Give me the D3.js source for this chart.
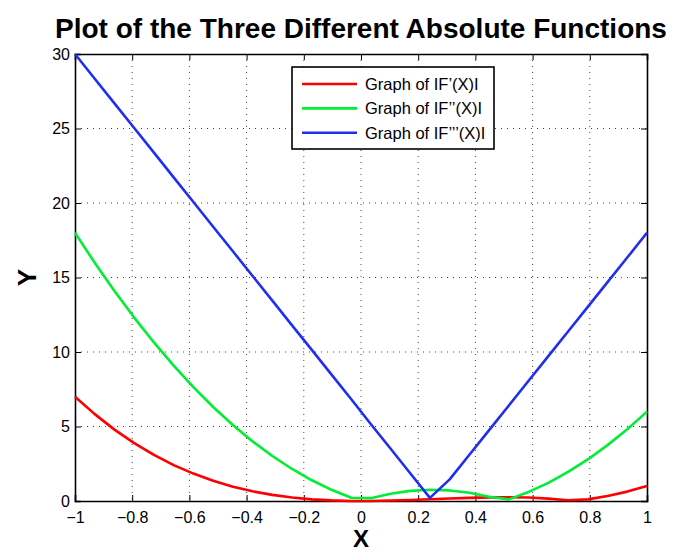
<!DOCTYPE html>
<html>
<head>
<meta charset="utf-8">
<script src="https://cdn.jsdelivr.net/npm/d3@7"></script>
<style>
  body { margin: 0; background: #fff; }
  svg { display: block; font-family: "Liberation Sans", Arial, Helvetica, sans-serif; }
  .grid line { stroke: #444; stroke-dasharray: 1 5; stroke-width: 1; }
</style>
</head>
<body>
<div id="chart"></div>
<script>
// samples (30 points between -1 and 1)
const xs = [-1, -0.931, -0.862, -0.793, -0.724, -0.655, -0.586, -0.517, -0.448, -0.379,
  -0.310, -0.241, -0.172, -0.103, -0.034, 0.034, 0.103, 0.172, 0.241, 0.310,
  0.379, 0.448, 0.517, 0.586, 0.655, 0.724, 0.793, 0.862, 0.931, 1];
const firstAbs = [7, 5.83, 4.79, 3.88, 3.09, 2.41, 1.84, 1.36, 0.96, 0.65,
  0.41, 0.23, 0.11, 0.04, 0.0, 0.0, 0.03, 0.07, 0.12, 0.17,
  0.21, 0.24, 0.25, 0.23, 0.16, 0.05, 0.11, 0.33, 0.63, 1];
const secondAbs = [18, 15.99, 14.09, 12.31, 10.64, 9.08, 7.64, 6.31, 5.10, 4.00,
  3.02, 2.15, 1.39, 0.75, 0.22, 0.19, 0.49, 0.68, 0.75, 0.71,
  0.55, 0.28, 0.11, 0.61, 1.22, 1.95, 2.79, 3.75, 4.82, 6];
const thirdAbs = [30, 28.34, 26.69, 25.03, 23.38, 21.72, 20.07, 18.41, 16.76, 15.10,
  13.45, 11.79, 10.14, 8.48, 6.83, 5.17, 3.52, 1.86, 0.21, 1.45,
  3.10, 4.76, 6.41, 8.07, 9.72, 11.38, 13.03, 14.69, 16.34, 18];
const seriesNames = ['Graph of IF’(X)I', 'Graph of IF’’(X)I', 'Graph of IF’’’(X)I'];
const seriesColors = ['#ff0000', '#00ee33', '#1f2ff0'];
const xTicks = [-1, -0.8, -0.6, -0.4, -0.2, 0, 0.2, 0.4, 0.6, 0.8, 1];
const yTicks = [0, 5, 10, 15, 20, 25, 30];

const W = 673, H = 552;
const margin = { top: 54, right: 26, bottom: 51, left: 75 };
const iw = W - margin.left - margin.right,
  ih = H - margin.top - margin.bottom;

const svg = d3.select('#chart').append('svg')
  .attr('width', W).attr('height', H);
const g = svg.append('g')
  .attr('transform', `translate(${margin.left},${margin.top})`);

const x = d3.scaleLinear().domain([-1, 1]).range([0, iw]);
const y = d3.scaleLinear().domain([0, 30]).range([ih, 0]);

// dotted grid
const grid = g.append('g').attr('class', 'grid');
grid.selectAll('line.gx').data(xTicks.slice(1, -1)).enter()
  .append('line')
    .attr('x1', d => x(d)).attr('x2', d => x(d))
    .attr('y1', 0).attr('y2', ih);
grid.selectAll('line.gy').data(yTicks.slice(1, -1)).enter()
  .append('line')
    .attr('x1', 0).attr('x2', iw)
    .attr('y1', d => y(d)).attr('y2', d => y(d));

const fmt = d => d3.format('')(d).replace('-', '\u2212');

// axes, ticks inward (matlab box style)
const tickLen = 6;
const axBottom = g.append('g').attr('transform', `translate(0,${ih})`)
  .call(d3.axisBottom(x).tickValues(xTicks).tickSize(-tickLen).tickPadding(8).tickFormat(fmt));
const axTop = g.append('g')
  .call(d3.axisTop(x).tickValues(xTicks).tickSize(-tickLen).tickFormat(''));
const axLeft = g.append('g')
  .call(d3.axisLeft(y).tickValues(yTicks).tickSize(-tickLen).tickPadding(5).tickFormat(d3.format('d')));
const axRight = g.append('g').attr('transform', `translate(${iw},0)`)
  .call(d3.axisRight(y).tickValues(yTicks).tickSize(-tickLen).tickFormat(''));

[axBottom, axTop, axLeft, axRight].forEach(a => {
  a.select('.domain').attr('stroke', '#000').attr('stroke-width', 1.6);
  a.selectAll('.tick line').attr('stroke', '#000').attr('stroke-width', 1);
  a.selectAll('.tick text')
    .attr('fill', '#000')
    .style('font-size', '16px')
    .style('font-family', '"Liberation Sans", Arial, sans-serif');
});
axBottom.selectAll('.tick text').attr('dy', '0.9em');

// lines
const lineGen = d3.line()
  .x((d, i) => x(xs[i]))
  .y(d => y(d));
[firstAbs, secondAbs, thirdAbs].forEach((vals, i) => {
  g.append('path')
    .attr('d', lineGen(vals))
    .attr('fill', 'none')
    .attr('stroke', seriesColors[i])
    .attr('stroke-width', 2.6)
    .attr('stroke-linejoin', 'round');
});

// legend
const legend = g.append('g').attr('transform', `translate(217,13)`);
legend.append('rect')
  .attr('width', 202).attr('height', 82)
  .attr('fill', '#fff').attr('stroke', '#000').attr('stroke-width', 1.6);
seriesNames.forEach((name, i) => {
  const row = legend.append('g').attr('transform', `translate(0,${17 + i * 24.4})`);
  row.append('line')
    .attr('x1', 10).attr('x2', 65)
    .attr('stroke', seriesColors[i]).attr('stroke-width', 2.6);
  row.append('text')
    .attr('x', 73).attr('dy', '0.36em')
    .style('font-size', '16.5px')
    .text(name);
});

// title and labels
svg.append('text')
  .attr('x', margin.left + iw / 2).attr('y', 38)
  .attr('text-anchor', 'middle')
  .style('font-size', '28px').style('font-weight', 'bold')
  .text('Plot of the Three Different Absolute Functions');
svg.append('text')
  .attr('x', margin.left + iw / 2).attr('y', 547)
  .attr('text-anchor', 'middle')
  .style('font-size', '24px').style('font-weight', 'bold')
  .text('X');
svg.append('text')
  .attr('transform', `translate(36,${margin.top + ih / 2}) rotate(-90)`)
  .attr('text-anchor', 'middle')
  .style('font-size', '26px').style('font-weight', 'bold')
  .text('Y');
</script>
</body>
</html>
